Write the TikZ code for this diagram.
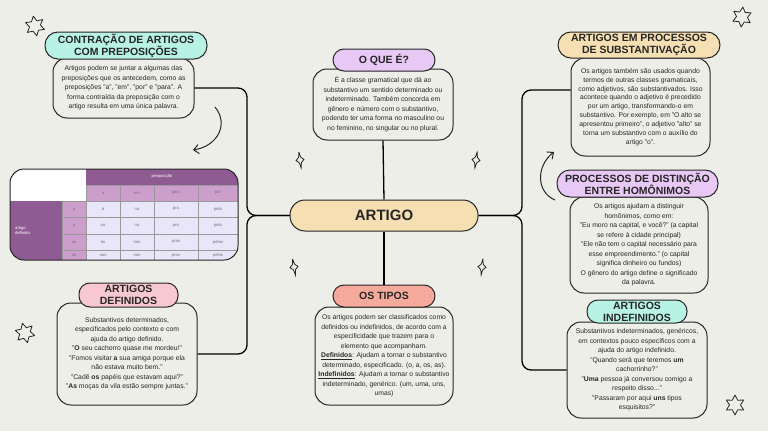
\documentclass[tikz,border=0pt]{standalone}
\usepackage{fontspec}
\setmainfont{Liberation Sans}
\usetikzlibrary{arrows.meta,positioning,calc}
\definecolor{paper}{RGB}{238,238,232}
\definecolor{ink}{RGB}{38,38,38}
\definecolor{mint}{RGB}{184,242,228}
\definecolor{lilac}{RGB}{232,200,244}
\definecolor{sand}{RGB}{246,223,178}
\definecolor{rose}{RGB}{248,200,208}
\definecolor{salmon}{RGB}{245,170,155}
\definecolor{plum}{RGB}{142,92,146}
\definecolor{orchid}{RGB}{204,158,204}
\definecolor{mist}{RGB}{232,230,248}

\begin{document}
\begin{tikzpicture}[x=1pt, y=-1pt,
    title/.style={draw=ink, line width=1pt, rounded corners=11pt, align=center, text=ink,
        font=\fontsize{10.5}{12}\selectfont\bfseries, inner sep=0pt},
    body/.style={draw=ink, line width=1pt, fill=paper, rounded corners=14pt, align=center, text=ink,
        font=\fontsize{6.8}{9.5}\selectfont, inner sep=0pt},
    conn/.style={draw=black, line width=1.3pt, rounded corners=9pt},
    curl/.style={-{Straight Barb[length=5pt,width=9pt]}, line width=1pt, draw=ink},
    cell/.style={font=\fontsize{4.2}{5}\selectfont, text=black!55, inner sep=0pt},
    hcell/.style={font=\fontsize{4.2}{5}\selectfont, text=white, inner sep=0pt},
    sparkle/.pic={\draw[ink, line width=0.8pt] (0,-8) .. controls (1,-2) .. (4,0) .. controls (1,2) .. (0,8)
        .. controls (-1,2) .. (-4,0) .. controls (-1,-2) .. cycle;},
    sixstar/.pic={\draw[ink, line width=0.8pt, line join=round] (90:10)
        \foreach \k in {1,...,11}{ -- ({90+30*\k}:{10-4.5*mod(\k,2)}) } -- cycle;}
]
\useasboundingbox (0,0) rectangle (768,431);
\fill[paper] (0,0) rectangle (768,431);

% centre
\node[title, fill=sand, rounded corners=15pt, minimum width=188, minimum height=31,
    font=\fontsize{15}{16}\selectfont\bfseries] (artigo) at (384,215.5) {ARTIGO};

% contracao
\node[body, minimum width=141, minimum height=60] (contrbody) at (123.5,88)
    {Artigos podem se juntar a algumas das\\preposições que os antecedem, como as\\
     preposições "a", "em", "por" e "para". A\\forma contraída da preposição com o\\
     artigo resulta em uma única palavra.};
\node[title, fill=mint, rounded corners=13pt, minimum width=162, minimum height=27] (contrtitle) at (126,45.5)
    {CONTRAÇÃO DE ARTIGOS\\COM PREPOSIÇÕES};

% o que e
\node[body, minimum width=140, minimum height=71] (quebody) at (383,104.5)
    {É a classe gramatical que dá ao\\substantivo um sentido determinado ou\\
     indeterminado. Também concorda em\\gênero e número com o substantivo,\\
     podendo ter uma forma no masculino ou\\no feminino, no singular ou no plural.};
\node[title, fill=lilac, minimum width=102, minimum height=22] (quetitle) at (384,60) {O QUE É?};

% substantivacao
\node[body, minimum width=139, minimum height=98, font=\fontsize{6.8}{8.8}\selectfont] (subsbody) at (640.5,107)
    {Os artigos também são usados quando\\termos de outras classes gramaticais,\\
     como adjetivos, são substantivados. Isso\\acontece quando o adjetivo é precedido\\
     por um artigo, transformando-o em\\substantivo. Por exemplo, em "O alto se\\
     apresentou primeiro", o adjetivo "alto" se\\torna um substantivo com o auxílio do\\
     artigo "o".};
\node[title, fill=sand, rounded corners=13pt, minimum width=162, minimum height=26] (substitle) at (639,45)
    {ARTIGOS EM PROCESSOS\\DE SUBSTANTIVAÇÃO};

% homonimos
\node[body, minimum width=138, minimum height=96] (hombody) at (639,245)
    {Os artigos ajudam a distinguir\\homônimos, como em:\\
     "Eu moro na capital, e você?" (a capital\\se refere à cidade principal)\\
     "Ele não tem o capital necessário para\\esse empreendimento." (o capital\\
     significa dinheiro ou fundos)\\O gênero do artigo define o significado\\da palavra.};
\node[title, fill=lilac, rounded corners=13pt, minimum width=161, minimum height=27] (homtitle) at (637.5,183.5)
    {PROCESSOS DE DISTINÇÃO\\ENTRE HOMÔNIMOS};

% definidos
\node[body, minimum width=140, minimum height=102] (defbody) at (127,354)
    {Substantivos determinados,\\especificados pelo contexto e com\\ajuda do artigo definido.\\
     "\textbf{O} seu cachorro quase me mordeu!"\\"Fomos visitar \textbf{a} sua amiga porque ela\\
     não estava muito bem."\\"Cadê \textbf{os} papéis que estavam aqui?"\\
     "\textbf{As} moças da vila estão sempre juntas."};
\node[title, fill=rose, minimum width=99, minimum height=24] (deftitle) at (128.5,295)
    {ARTIGOS\\DEFINIDOS};

% tipos
\node[body, minimum width=138, minimum height=98] (tiposbody) at (384,356)
    {Os artigos podem ser classificados como\\definidos ou indefinidos, de acordo com a\\
     especificidade que trazem para o\\elemento que acompanham.\\
     \underline{\textbf{Definidos}}: Ajudam a tornar o substantivo\\determinado, especificado. (o, a, os, as).\\
     \underline{\textbf{Indefinidos}}: Ajudam a tornar o substantivo\\indeterminado, genérico. (um, uma, uns,\\umas)};
\node[title, fill=salmon, minimum width=102, minimum height=22] (tipostitle) at (384,296) {OS TIPOS};

% indefinidos
\node[body, minimum width=140, minimum height=96] (indbody) at (637,370)
    {Substantivos indeterminados, genéricos,\\em contextos pouco específicos com a\\ajuda do artigo indefinido.\\
     "Quando será que teremos \textbf{um}\\cachorrinho?"\\"\textbf{Uma} pessoa já conversou comigo a\\
     respeito disso..."\\"Passaram por aqui \textbf{uns} tipos\\esquisitos?"};
\node[title, fill=mint, minimum width=100, minimum height=23] (indtitle) at (637,311.5)
    {ARTIGOS\\INDEFINIDOS};

% ligacoes
\coordinate (lhub) at (247,215.5);
\coordinate (rhub) at (522,215.5);
\draw[conn] (contrbody.east) -| (lhub) -- (artigo.west);
\draw[conn] (defbody.east) -| (lhub) -- (artigo.west);
\draw[conn] ([yshift=17pt]subsbody.west) -| (rhub) -- (artigo.east);
\draw[conn] (indbody.west) -| (rhub) -- (artigo.east);
\draw[conn] (quebody.south) -- (artigo.north);
\draw[conn] (artigo.south) -- (tipostitle.north);

% setas curvas
\coordinate (lcurlA) at (215,107);
\coordinate (lcurlB) at (193,150);
\draw[curl] (lcurlA) .. controls (229,124) and (218,146) .. (lcurlB);
\coordinate (rcurlA) at (555,200);
\coordinate (rcurlB) at (554,152);
\draw[curl] (rcurlA) .. controls (536,192) and (536,166) .. (rcurlB);

% tabela
\begin{scope}
\clip[rounded corners=14pt] (10,169) rectangle (238,260);
\fill[white] (10,169) rectangle (86,201);
\fill[plum] (86,169) rectangle (238,185);
\fill[plum] (10,201) rectangle (62,260);
\fill[orchid] (86,185) rectangle (238,201);
\fill[orchid] (62,201) rectangle (86,260);
\fill[mist] (86,201) rectangle (238,260);
\draw[black!40, line width=0.8pt] (86,185) -- (238,185) (62,201) -- (238,201)
    (62,217.5) -- (238,217.5) (62,234) -- (238,234) (62,250.5) -- (238,250.5);
\foreach \cx in {86,120,154,198}
    \draw[black!40, line width=0.8pt] (\cx,185) -- (\cx,260);
\draw[black!40, line width=0.8pt] (62,201) -- (62,260);
\end{scope}
\draw[ink, line width=1pt, rounded corners=14pt] (10,169) rectangle (238,260);
\node[hcell] (prep) at (162,176.5) {preposição};
\foreach \p/\px in {a/103,em/137,para/176,por/218}
    \node[hcell, text=black!55] (head-\p) at (\px,193) {\p};
\node[hcell, align=left, anchor=west] (artdef) at (15,230) {artigo\\definido};
\foreach \art/\ca/\cb/\cc/\cd/\ry in {a/à/na/pra/pela/209.2, o/ao/no/pro/pelo/225.7,
        as/às/nas/pras/pelas/242.2, os/aos/nos/pros/pelos/255.5} {
    \node[cell] (art-\art) at (74,\ry) {\art};
    \node[cell] at (103,\ry) {\ca};
    \node[cell] at (137,\ry) {\cb};
    \node[cell] at (176,\ry) {\cc};
    \node[cell] at (218,\ry) {\cd};
}

% enfeites
\pic[rotate=8] at (300,160) {sparkle};
\pic[rotate=-8] at (476,160) {sparkle};
\pic[rotate=10] at (294,267) {sparkle};
\pic[rotate=-6] at (482,267) {sparkle};
\pic[rotate=10] at (35,26) {sixstar};
\pic[rotate=-5] at (742,17) {sixstar};
\pic[rotate=15] at (25,333) {sixstar};
\pic[rotate=0] at (735,405) {sixstar};
\end{tikzpicture}
\end{document}
